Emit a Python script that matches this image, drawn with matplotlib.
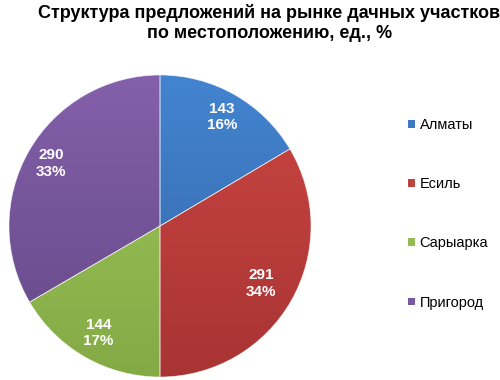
import numpy as np
import matplotlib
matplotlib.use("Agg")
import matplotlib.pyplot as plt
from matplotlib.patches import Patch
from matplotlib.colors import to_rgb

plt.rcParams['font.family'] = ['Liberation Sans', 'DejaVu Sans']

title = "Структура предложений на рынке дачных участков\nпо местоположению, ед., %"
categories = ["Алматы", "Есиль", "Сарыарка", "Пригород"]
values = [143, 291, 144, 290]
percents = ["16%", "34%", "17%", "33%"]
top_colors = ["#4384d0", "#cc4643", "#9fc85a", "#8460aa"]
bottom_colors = ["#3365a6", "#a83433", "#84aa46", "#634887"]
base_colors = ["#3e78c1", "#bf4340", "#93b953", "#7757a0"]
label_r = [0.83, 0.77, 0.82, 0.83]

fig = plt.figure(figsize=(5, 3.8), dpi=100)
W, H = 500, 380
cx, cy, R = 160, 226, 151
ax = fig.add_axes([(cx - R) / W, (H - cy - R) / H, 2 * R / W, 2 * R / H])

wedges, _ = ax.pie(values, startangle=90, counterclock=False, radius=1,
                   colors=base_colors,
                   wedgeprops=dict(edgecolor=(1, 1, 1, 0.6), linewidth=0.6))
ax.set_xlim(-1, 1)
ax.set_ylim(-1, 1)
ax.set_aspect('equal')
ax.axis('off')

# vertical gradient fill for each wedge
n = 256
t = np.linspace(0, 1, n)[:, None]
for w, ct, cb in zip(wedges, top_colors, bottom_colors):
    a = np.array(to_rgb(ct)); b = np.array(to_rgb(cb))
    img = (a[None, None, :] * (1 - t[..., None]) + b[None, None, :] * t[..., None])
    img = np.repeat(img, 2, axis=1)
    im = ax.imshow(img, extent=(-1, 1, -1, 1), origin='upper', zorder=1.5,
                   aspect='auto', interpolation='bilinear')
    im.set_clip_path(w)
    w.set_zorder(2)
    w.set_facecolor('none')

# data labels
total = sum(values)
ang = 90.0
for v, p, r in zip(values, percents, label_r):
    span = 360.0 * v / total
    mid = np.deg2rad(ang - span / 2)
    ang -= span
    ax.text(r * np.cos(mid), r * np.sin(mid), f"{v}\n{p}", ha='center', va='center',
            color='white', fontsize=11, fontweight='bold', linespacing=1.2, zorder=5)

fig.text(0.539, 1 - 23 / H, title, ha='center', va='center', fontsize=13,
         fontweight='bold', linespacing=1.3)

handles = [Patch(facecolor=c, edgecolor='none') for c in base_colors]
fig.legend(handles, categories, loc='upper left', bbox_to_anchor=(408 / W, 1 - 118 / H),
           frameon=False, fontsize=10.5, handlelength=0.45, handleheight=0.45,
           handletextpad=0.35, labelspacing=3.1, borderpad=0, borderaxespad=0)

fig.savefig("out.png", dpi=100)
